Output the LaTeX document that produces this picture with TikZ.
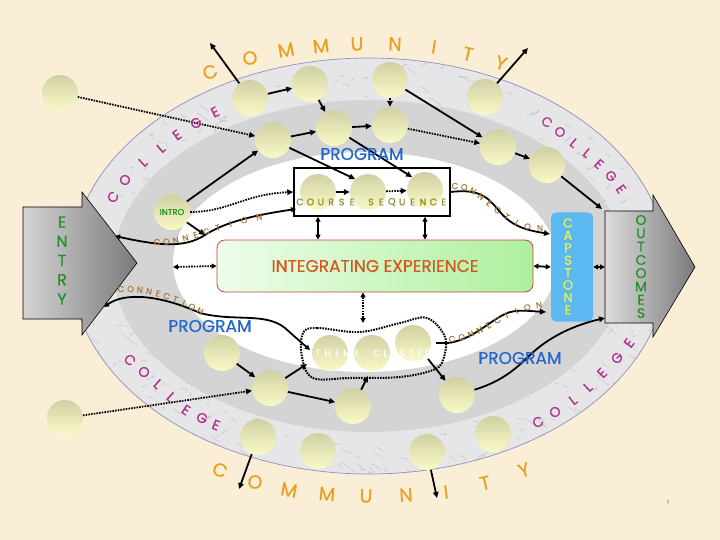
\documentclass[tikz,border=0pt]{standalone}
\usepackage{fontspec}
\setmainfont{Poppins}[FakeBold=0.5]
\usetikzlibrary{arrows.meta,calc}
\definecolor{bg}{HTML}{FBEED6}
\definecolor{marble}{HTML}{E6E6E8}
\definecolor{ring}{HTML}{D4D4D4}
\definecolor{ballTop}{HTML}{D0D0A4}
\definecolor{ballBot}{HTML}{FAFAC8}
\definecolor{orng}{HTML}{E9A020}
\definecolor{mag}{HTML}{B03088}
\definecolor{prog}{HTML}{2266CC}
\definecolor{grn}{HTML}{22922A}
\definecolor{capc}{HTML}{5CB8F0}
\definecolor{capt}{HTML}{EEF050}
\definecolor{intt}{HTML}{D4581E}
\definecolor{intb}{HTML}{C8483A}
\definecolor{intl}{HTML}{EEFDEA}
\definecolor{intd}{HTML}{AEF09E}
\definecolor{conn}{HTML}{A8783A}
\definecolor{crs}{HTML}{8C8A2C}
\definecolor{edgec}{HTML}{8E8EC4}
\definecolor{arrL}{HTML}{D4D4D4}
\definecolor{arrR}{HTML}{7A7A7A}
\begin{document}
\begin{tikzpicture}[x=1pt,y=-1pt,
  ball/.style={circle, minimum size=36pt, inner sep=0pt, top color=ballTop, bottom color=ballBot},
  arr/.style={-{Triangle[length=6pt,width=5.5pt]}, line width=1.8pt, black},
  dotarr/.style={arr, dash pattern=on 1.6pt off 1.1pt},
  darr/.style={{Triangle[length=5pt,width=5pt]}-{Triangle[length=5pt,width=5pt]}, line width=1.8pt, black},
  ddarr/.style={darr, dash pattern=on 1.6pt off 1.1pt},
  com/.style={text=orng, font=\fontsize{19}{19}\selectfont, inner sep=0pt},
  col/.style={text=mag, font=\fontsize{14}{14}\selectfont, inner sep=0pt},
  prg/.style={text=prog, font=\fontsize{17}{17}\selectfont, inner sep=0pt},
  cn/.style={text=conn, font=\fontsize{8.5}{8.5}\selectfont, inner sep=0pt, sloped},
  vert/.style={text=grn, font=\fontsize{16}{16}\selectfont, inner sep=0pt},
  smalltxt/.style={font=\fontsize{9.5}{9.5}\selectfont, inner sep=0pt}
]
\useasboundingbox (0,0) rectangle (720,540);
\fill[bg] (0,0) rectangle (720,540);

% marble band
\fill[marble] (369,266) ellipse [x radius=298pt, y radius=208pt];
\begin{scope}
\clip (369,266) ellipse [x radius=298pt, y radius=208pt];
\pgfmathsetseed{7}
\foreach \i in {1,...,260}{
  \pgfmathsetmacro{\th}{rnd*360}
  \pgfmathsetmacro{\rr}{0.82+0.2*rnd}
  \pgfmathsetmacro{\px}{369+298*\rr*cos(\th)}
  \pgfmathsetmacro{\py}{266+208*\rr*sin(\th)}
  \pgfmathsetmacro{\dx}{16*rnd-8}
  \pgfmathsetmacro{\dy}{10*rnd-5}
  \draw[gray!75, line width=0.5pt, opacity=0.45] (\px,\py) -- ++(\dx,\dy) -- ++(\dy,0.5*\dx);
}
\end{scope}
\draw[edgec, line width=0.7pt] (369,266) ellipse [x radius=298pt, y radius=208pt];
\fill[ring] (369,266) ellipse [x radius=256pt, y radius=166pt];
\fill[white] (365,262) ellipse [x radius=192pt, y radius=110pt];

% course box, integrating box, capstone
\node[draw=black, line width=1.5pt, minimum width=156pt, minimum height=48pt, inner sep=0pt] (cbox) at (372,192) {};
\node[draw=intb, line width=0.8pt, rounded corners=8pt, minimum width=316pt, minimum height=52pt,
      left color=intl, right color=intd, text=intt, font=\fontsize{17}{17}\selectfont] (integ) at (375,266) {INTEGRATING EXPERIENCE};
\node[fill=capc, rounded corners=5pt, minimum width=42pt, minimum height=109pt, inner sep=0pt] (cap) at (572,267) {};

% entry and outcomes arrows
\path[draw=black, line width=0.6pt, left color=arrL, right color=arrR]
  (23,207) -- (82,207) -- (82,192) -- (137,263) -- (82,335) -- (82,319) -- (23,319) -- cycle;
\path[draw=black, line width=0.6pt, left color=arrL!80!white, right color=arrR]
  (605,211) -- (653,211) -- (653,195) -- (695,267) -- (653,337) -- (653,323) -- (605,323) -- cycle;

% balls
\node[ball] (o1) at (60,93) {};
\node[ball] (o2) at (65,418) {};
\node[ball] (t1) at (250,98) {};
\node[ball] (t2) at (310,84) {};
\node[ball] (t3) at (273,140) {};
\node[ball] (t4) at (334,128) {};
\node[ball] (t5) at (390,80) {};
\node[ball] (t6) at (390,125) {};
\node[ball] (t7) at (485,97) {};
\node[ball] (t8) at (498,147) {};
\node[ball] (t9) at (547,165) {};
\node[ball, text=grn, font=\fontsize{8.5}{8.5}\selectfont] (intro) at (172,212) {INTRO};
\node[ball] (c1) at (318,192) {};
\node[ball] (c2) at (368,192) {};
\node[ball] (c3) at (425,190) {};
\node[ball] (th1) at (330,353) {};
\node[ball] (th2) at (372,353) {};
\node[ball] (th3) at (413,343) {};
\node[ball] (b1) at (222,353) {};
\node[ball] (b2) at (270,388) {};
\node[ball] (b3) at (353,406) {};
\node[ball] (b4) at (457,395) {};
\node[ball] (b5) at (258,437) {};
\node[ball] (b6) at (318,451) {};
\node[ball] (b7) at (427,452) {};
\node[ball] (b8) at (493,434) {};

% theme cluster outline
\draw[line width=2pt, dash pattern=on 1.6pt off 1.1pt] plot[smooth cycle, tension=0.6] coordinates
  {(303,333) (317,328) (360,332) (400,323) (427,318) (445,337) (443,360) (433,370) (400,377) (350,378) (313,378) (302,357)};

% free ends
\coordinate (e1) at (210,43);
\coordinate (e2) at (528,48);
\coordinate (e3) at (437,498);
\coordinate (e4) at (239,489);
\coordinate (oc1) at (602,209);
\coordinate (oc2) at (605,318);
\coordinate (oc3) at (605,267);
\coordinate (ent1) at (115,236);
\coordinate (ent2) at (104,307);
\coordinate (ent3) at (173,267);
\coordinate (j1) at (205,235);
\coordinate (cb1) at (296,209);
\coordinate (cl1) at (310,350);
\coordinate (cl2) at (307,364);
\coordinate (cl3) at (368,376);
\coordinate (cl4) at (428,359);
\coordinate (cl5) at (436,343);
\coordinate (cl6) at (363,323);
\coordinate (cap1) at (550,234);
\coordinate (cap2) at (546,312);

% connectors
\draw[arr] (t1) -- (e1);
\draw[dotarr] (o1) -- (t3);
\draw[arr] (t1) -- (t2);
\draw[arr] (t2) -- (t4);
\draw[arr] (t3) -- (t4);
\draw[arr] (t3) -- (c2.north west);
\draw[arr] (t4) -- (c3.north west);
\draw[arr] (t4) -- (t6);
\draw[dotarr] (t5) -- (t6);
\draw[arr] (t5) -- (t8);
\draw[dotarr] (t6) -- (t8);
\draw[arr] (t7) -- (e2);
\draw[arr] (t8) -- (t9);
\draw[arr] (t9) -- (oc1);
\draw[arr] (intro) -- (t3);
\draw[dotarr] (intro.east) .. controls (228,212) and (245,194) .. (cbox.west);
\draw[arr] (intro) -- (j1);
\draw[darr] (cb1) .. controls (255,215) and (225,222) .. (j1) .. controls (185,248) and (160,246) .. (ent1);
\draw[darr] (ent2) .. controls (125,292) and (160,295) .. (200,313) .. controls (235,322) and (265,312) .. (285,328) .. controls (295,337) and (302,343) .. (cl1);
\draw[ddarr] (ent3) -- (integ.west);
\draw[darr] (cbox.south -| c1) -- (integ.north -| c1);
\draw[darr] (cbox.south -| c3) -- (integ.north -| c3);
\draw[ddarr] (integ.south -| cl6) -- (cl6);
\draw[darr] (integ.east) -- (cap.west);
\draw[darr] (cap.east) -- (oc3);
\draw[arr] (c1) -- (c2);
\draw[dotarr] (c2) -- (c3);
\draw[arr] (cbox.east) .. controls (482,188) and (490,200) .. (500,212) .. controls (512,226) and (525,230) .. (cap1);
\draw[arr] (cl5) -- (448,343) .. controls (472,340) and (488,322) .. (505,314) .. controls (515,309) and (528,311) .. (cap2);
\draw[arr] (b1) -- (b2);
\draw[arr] (b2) -- (cl2);
\draw[arr] (b2) -- (b3);
\draw[dotarr] (o2) -- (b2);
\draw[arr] (b3) -- (cl3);
\draw[arr] (cl4) -- (b4);
\draw[arr] (b4) .. controls (500,382) and (515,370) .. (530,355) .. controls (550,336) and (575,325) .. (oc2);
\draw[arr] (b7) -- (e3);
\draw[arr] (b5) -- (e4);

% labels
\node[prg] (pg1) at (362,154) {PROGRAM};
\node[prg] (pg2) at (210,326) {PROGRAM};
\node[prg] (pg3) at (520,358) {PROGRAM};

\foreach \l [count=\i from 0] in {C,O,U,R,S,E}
  \node[smalltxt, text=crs] (crsA\i) at ({300+10.4*\i},202) {\l};
\foreach \l [count=\i from 0] in {S,E,Q,U,E,N,C,E}
  \node[smalltxt, text=crs] (crsB\i) at ({371+10.4*\i},202) {\l};
\foreach \l [count=\i from 0] in {T,H,E,M,E}
  \node[smalltxt, text=white] (thA\i) at ({318+9.75*\i},353) {\l};
\foreach \l [count=\i from 0] in {C,L,U,S,T,E,R}
  \node[smalltxt, text=white] (thB\i) at ({377+8.5*\i},353) {\l};

\foreach \l [count=\i from 0] in {E,N,T,R,Y}
  \node[vert] (ent\i) at (62,{222+19.25*\i}) {\l};
\foreach \l [count=\i from 0] in {O,U,T,C,O,M,E,S}
  \node[vert, font=\fontsize{14}{14}\selectfont] (out\i) at (641,{220+13.3*\i}) {\l};
\foreach \l [count=\i from 0] in {C,A,P,S,T,O,N,E}
  \node[vert, text=capt, font=\fontsize{13}{13}\selectfont] (cps\i) at (568,{223+12.4*\i}) {\l};

\foreach \l/\x/\y/\r [count=\i] in {C/210/72/22, O/250/58/16, M/286/50/10, M/321/46/6, U/357/44/2, N/395/44/-3, I/434/47/-8, T/468/54/-13, Y/501/63/-18}
  \node[com, rotate=\r] (cmA\i) at (\x,\y) {\l};
\foreach \l/\x/\y/\r [count=\i] in {C/220/470/-22, O/255/482/-16, M/289/490/-10, M/327/494/-5, U/366/496/-1, N/406/495/3, I/446/492/7, T/485/483/13, Y/524/470/18}
  \node[com, rotate=\r] (cmB\i) at (\x,\y) {\l};

\foreach \l/\x/\y/\r [count=\i] in {C/113/197/55, O/125/180/50, L/143/162/43, L/161/148/40, E/177/135/36, G/196/123/31, E/215/112/27}
  \node[col, rotate=\r] (clA\i) at (\x,\y) {\l};
\foreach \l/\x/\y/\r [count=\i] in {C/547/122/-36, O/560/132/-38, L/574/143/-40, L/587/153/-40, E/599/164/-42, G/611/176/-48, E/621/189/-55}
  \node[col, font=\fontsize{13.5}{13.5}\selectfont, rotate=\r] (clB\i) at (\x,\y) {\l};
\foreach \l/\x/\y/\r [count=\i] in {C/130/360/-45, O/144/372/-40, L/158/384/-42, L/171/397/-42, E/186/410/-33, G/202/418/-27, E/216/425/-22}
  \node[col, rotate=\r] (clC\i) at (\x,\y) {\l};
\foreach \l/\x/\y/\r [count=\i] in {C/538/422/30, O/555/412/32, L/573/400/37, L/588/387/43, E/602/373/46, G/617/358/50, E/629/343/54}
  \node[col, rotate=\r] (clD\i) at (\x,\y) {\l};

% CONNECTION labels along curves
\foreach \l [count=\i from 0, evaluate=\i as \p using \i/9] in {C,O,N,N,E,C,T,I,O,N}
  \path (157,242) .. controls (185,243) and (212,226) .. (259,217) node[cn, pos=\p] (cnA\i) {\l};
\foreach \l [count=\i from 0, evaluate=\i as \p using \i/9] in {C,O,N,N,E,C,T,I,O,N}
  \path (121,289) .. controls (150,288) and (176,298) .. (200,311) node[cn, pos=\p] (cnB\i) {\l};
\foreach \l [count=\i from 0, evaluate=\i as \p using \i/9] in {C,O,N,N,E,C,T,I,O,N}
  \path (455,186) .. controls (484,185) and (500,228) .. (540,228) node[cn, pos=\p] (cnC\i) {\l};
\foreach \l [count=\i from 0, evaluate=\i as \p using \i/9] in {C,O,N,N,E,C,T,I,O,N}
  \path (452,339) .. controls (482,336) and (502,310) .. (539,305) node[cn, pos=\p] (cnD\i) {\l};

\node[text=gray, font=\fontsize{6}{6}\selectfont, inner sep=0pt] (pnum) at (668,502) {1};
\end{tikzpicture}
\end{document}
